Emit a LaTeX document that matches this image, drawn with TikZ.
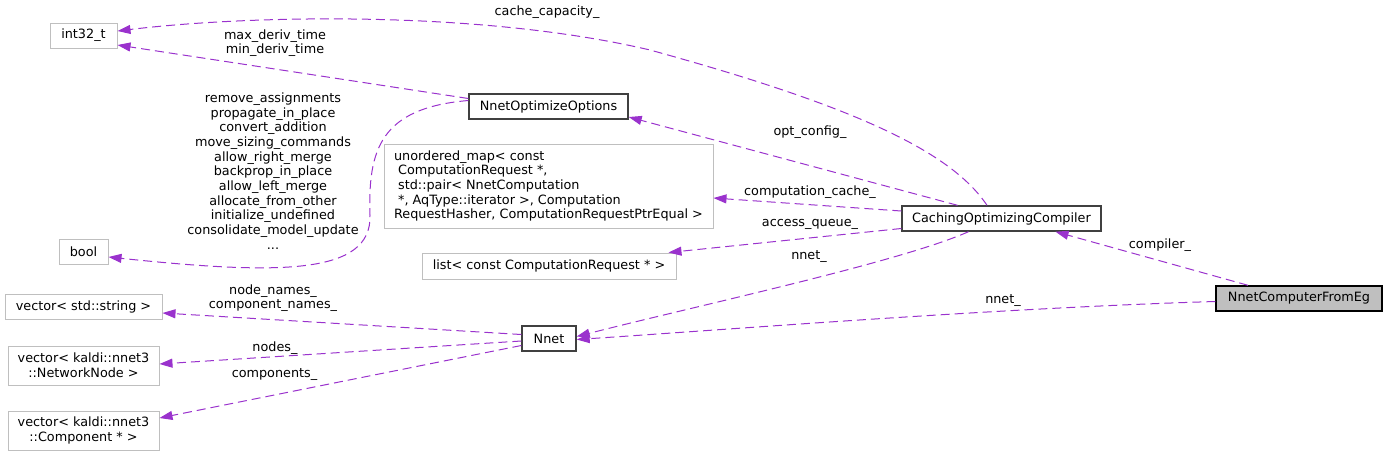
\documentclass[tikz,border=0pt]{standalone}
\usepackage{fontspec}
\setmainfont{DejaVu Sans}
\usepackage{tikz}
\usetikzlibrary{arrows.meta}
\definecolor{edgepurple}{RGB}{154,50,205}
\definecolor{boxgrey}{RGB}{191,191,191}
\definecolor{boxdark}{RGB}{64,64,64}

\begin{document}
\begin{tikzpicture}[x=1pt, y=-1pt,
    font=\fontsize{12.8}{14.7}\selectfont,
    cls/.style={draw=boxgrey, line width=1pt, inner sep=0pt, align=center, minimum height=25pt},
    main/.style={cls, draw=boxdark, line width=1.4pt},
    assoc/.style={draw=edgepurple, line width=1pt, dash pattern=on 9pt off 5pt,
      -{Triangle[length=13pt, width=9pt, fill=edgepurple]}},
    lbl/.style={inner sep=0pt, align=center}]
    \useasboundingbox (0,0) rectangle (1387,456);
    % classes
    \node[cls, minimum width=67pt] (int) at (83.5,35.5) {int32\_t};
    \node[cls, minimum width=49pt] (boolt) at (83.5,251.5) {bool};
    \node[cls, minimum width=157pt] (vstr) at (83.5,306.5) {vector< std::string >};
    \node[cls, minimum width=151pt, minimum height=39pt] (vnode) at (83.5,365.5)
      {vector< kaldi::nnet3\\::NetworkNode >};
    \node[cls, minimum width=151pt, minimum height=39pt] (vcomp) at (83.5,430.5)
      {vector< kaldi::nnet3\\::Component * >};
    \node[main, minimum width=159pt] (opt) at (548.5,106.5) {NnetOptimizeOptions};
    \node[cls, align=left, minimum width=329pt, minimum height=84pt] (umap) at (548.5,186)
      {unordered\_map< const\\\ ComputationRequest *,\\\ std::pair< NnetComputation\\\ *, AqType::iterator >, Computation\\RequestHasher, ComputationRequestPtrEqual >};
    \node[cls, minimum width=254pt, minimum height=26pt] (alist) at (549,266) {list< const ComputationRequest * >};
    \node[main, minimum width=54pt] (nnet) at (549,338.5) {Nnet};
    \node[main, minimum width=199pt] (coc) at (1001.5,218.5) {CachingOptimizingCompiler};
    \node[main, draw=black, fill=boxgrey, minimum width=166pt] (nce) at (1299,298.5) {NnetComputerFromEg};
    % members
    \draw[assoc] ([xshift=-14.5pt]coc.north) .. controls (950,150) and (850,105) .. (650,50)
      .. controls (480,10) and (250,15) .. ([yshift=4.5pt]int.east);
    \draw[assoc] ([yshift=8pt]opt.west) -- ([yshift=-9.5pt]int.east);
    \draw[assoc] ([yshift=6pt]opt.west) .. controls (380,108) and (368,150) .. (370,215)
      .. controls (372,275) and (280,275) .. ([yshift=-5.5pt]boolt.east);
    \draw[assoc] ([xshift=-44pt]coc.north) -- ([yshift=-10.5pt]opt.east);
    \draw[assoc] ([yshift=7.5pt]coc.west) -- ([yshift=-12pt]umap.east);
    \draw[assoc] ([yshift=-10pt]coc.west) -- ([xshift=-8pt]alist.north east);
    \draw[assoc] ([xshift=-33pt]coc.south) .. controls (900,262) and (700,305) .. ([yshift=2pt]nnet.east);
    \draw[assoc] ([xshift=-51pt]nce.north) -- ([xshift=54pt]coc.south);
    \draw[assoc] ([yshift=-3pt]nce.west) .. controls (1000,308) and (750,328) .. ([yshift=-1pt]nnet.east);
    \draw[assoc] ([yshift=4pt]nnet.west) -- ([yshift=-6.5pt]vstr.east);
    \draw[assoc] ([yshift=-2.5pt]nnet.west) -- ([yshift=1.5pt]vnode.east);
    \draw[assoc] ([yshift=-7pt]nnet.west) -- ([yshift=12.5pt]vcomp.east);
    % labels
    \node[lbl] (lcache) at (547,12) {cache\_capacity\_};
    \node[lbl] (lderiv) at (275,43) {max\_deriv\_time\\min\_deriv\_time};
    \node[lbl] (lflags) at (273,171) {remove\_assignments\\propagate\_in\_place\\convert\_addition\\move\_sizing\_commands\\allow\_right\_merge\\backprop\_in\_place\\allow\_left\_merge\\allocate\_from\_other\\initialize\_undefined\\consolidate\_model\_update\\...};
    \node[lbl] (lopt) at (810,132) {opt\_config\_};
    \node[lbl] (lccache) at (810,192) {computation\_cache\_};
    \node[lbl] (lqueue) at (810,224) {access\_queue\_};
    \node[lbl] (lnnet) at (809,257) {nnet\_};
    \node[lbl] (lcomp) at (1160,245) {compiler\_};
    \node[lbl] (lnnettwo) at (1003,301) {nnet\_};
    \node[lbl] (lnames) at (273,298) {node\_names\_\\component\_names\_};
    \node[lbl] (lnodes) at (275,348) {nodes\_};
    \node[lbl] (lcomps) at (274.5,375) {components\_};
\end{tikzpicture}
\end{document}
